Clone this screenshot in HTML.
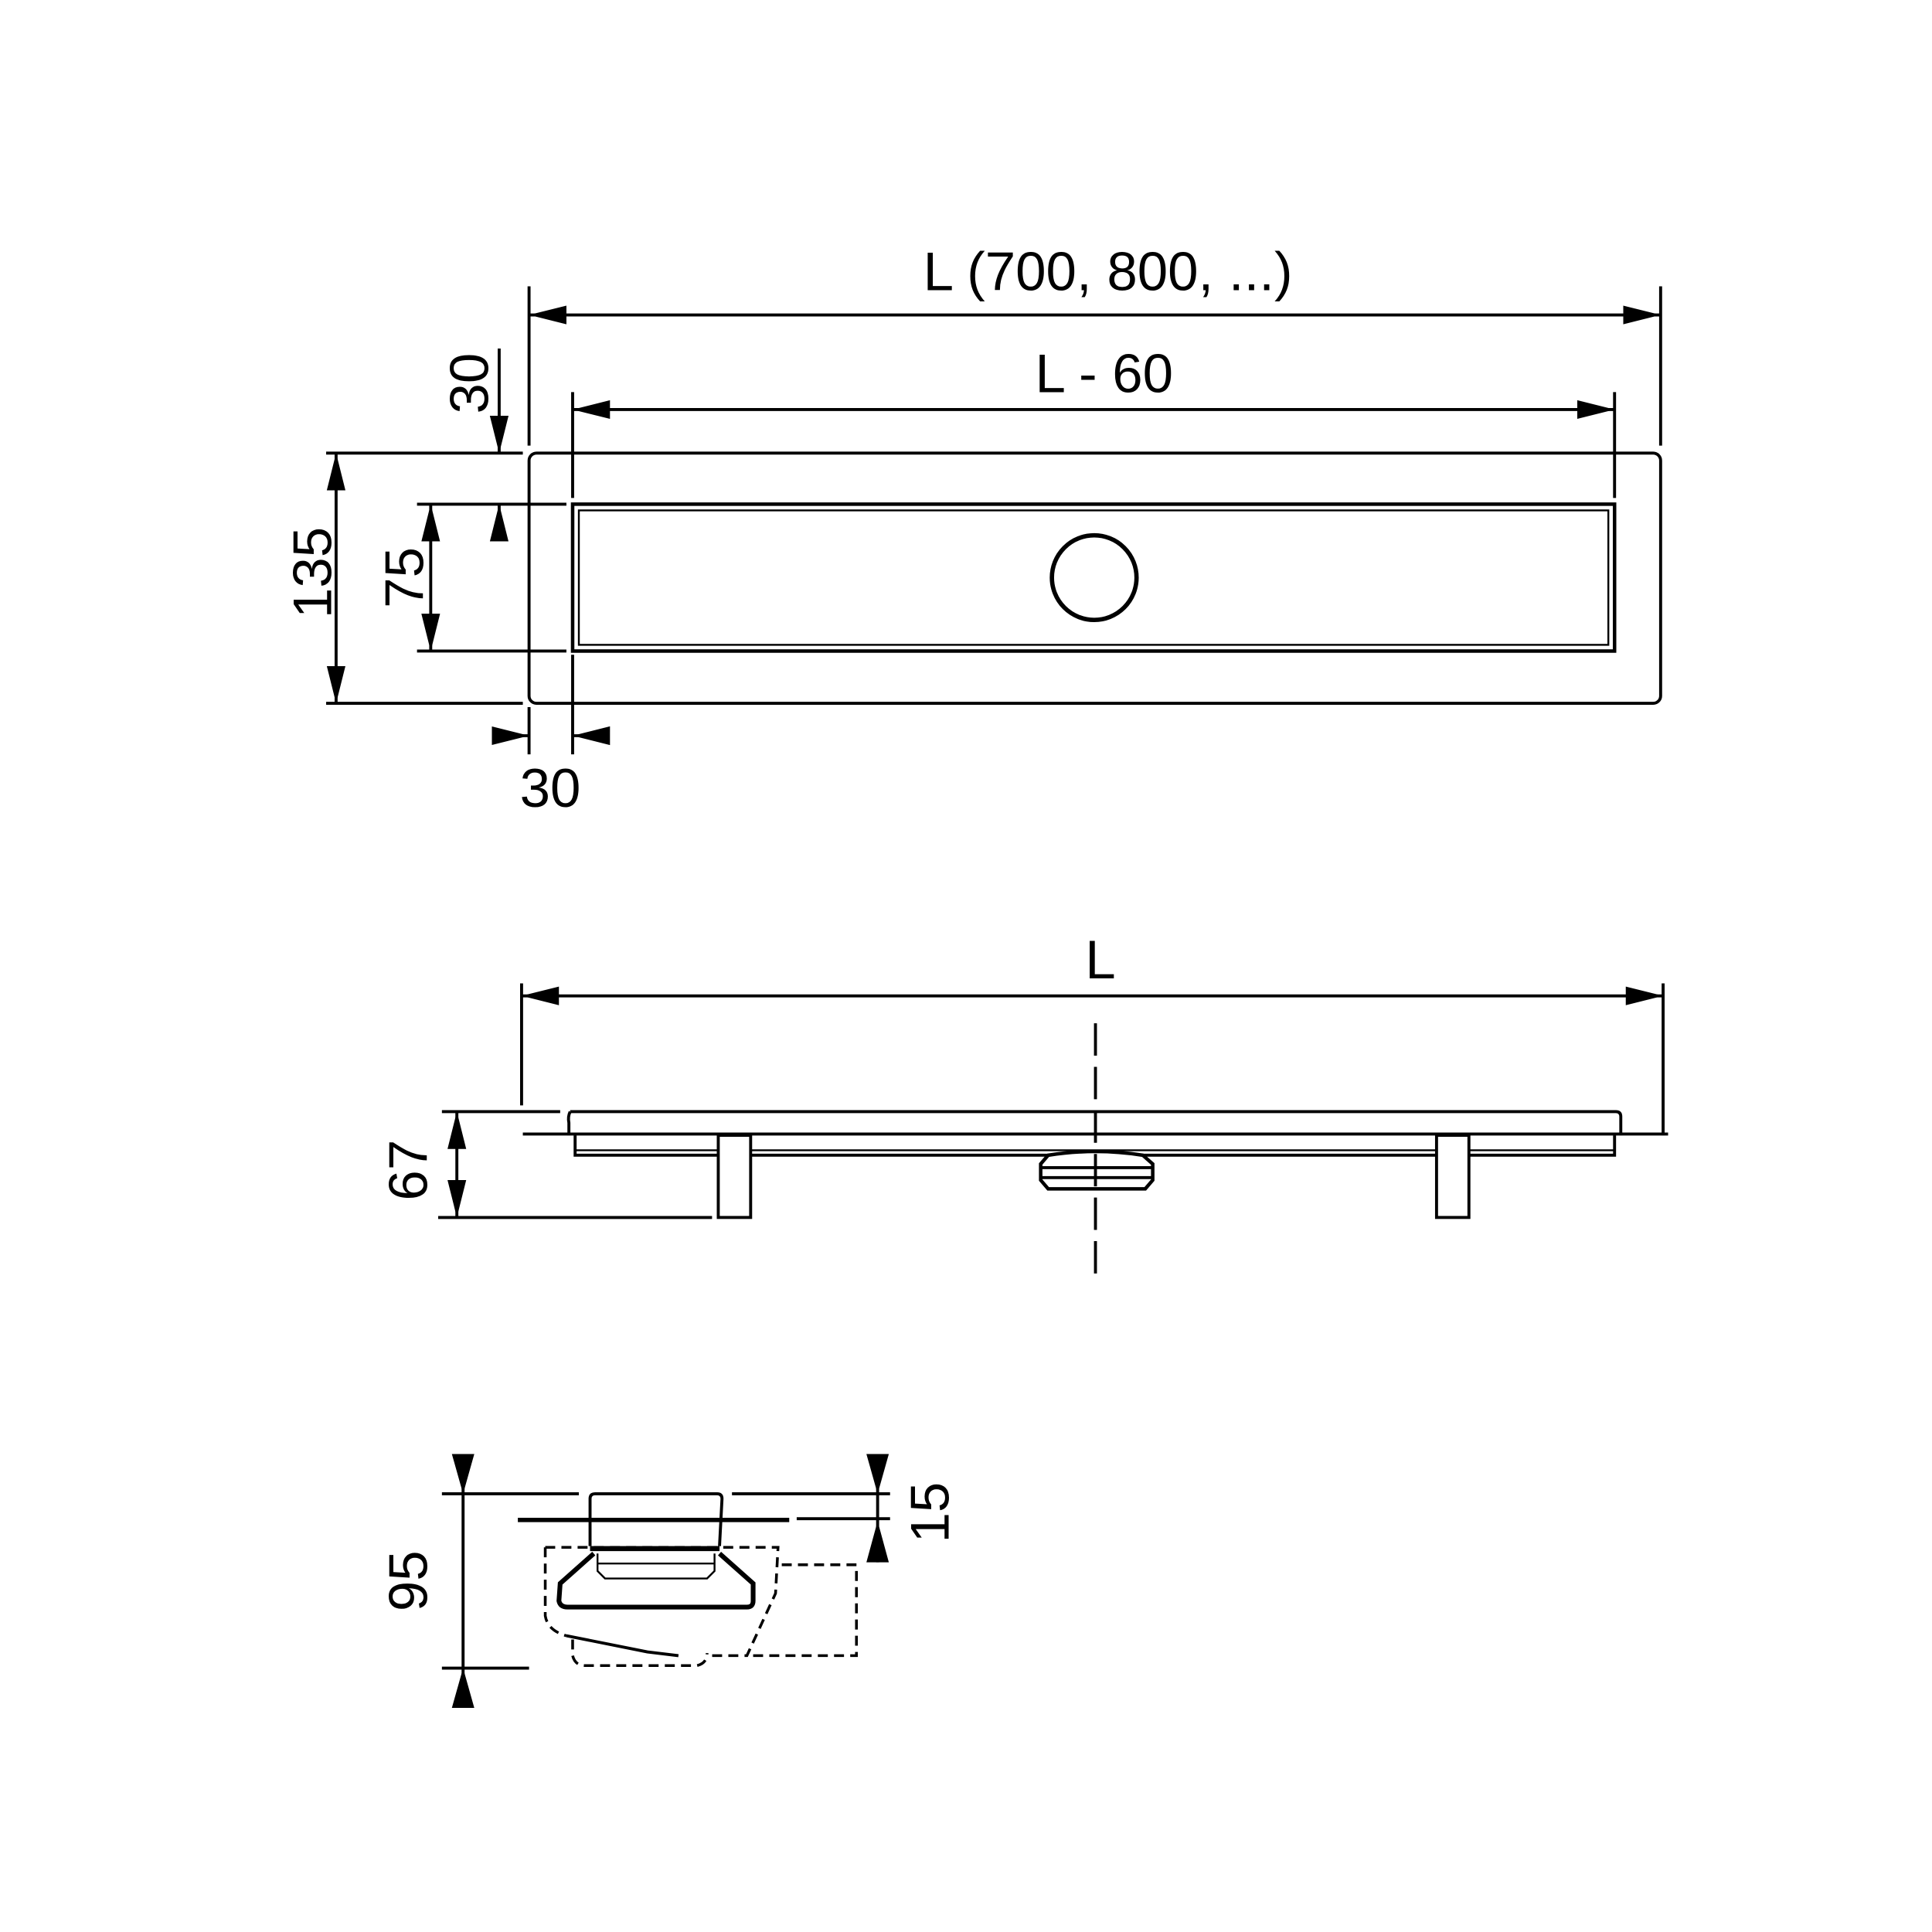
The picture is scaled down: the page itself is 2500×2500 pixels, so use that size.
<!DOCTYPE html>
<html><head><meta charset="utf-8"><style>html,body{margin:0;padding:0;background:#fff}svg{display:block}</style></head>
<body>
<svg width="2500" height="2500" viewBox="0 0 1552 1552" xmlns="http://www.w3.org/2000/svg" font-family="Liberation Sans, sans-serif" fill="none" stroke="#000" stroke-width="2.4">
<defs>
<marker id="b" viewBox="0 0 10 10" refX="10" refY="5" markerWidth="30" markerHeight="30" markerUnits="userSpaceOnUse" orient="auto-start-reverse"><path d="M0,2.5 L10,5 L0,7.5Z" fill="#000" stroke="none"/></marker>
</defs>
<!-- TOP VIEW -->
<rect x="425" y="364" width="909" height="201" rx="6"/>
<rect x="460" y="405" width="837" height="118" stroke-width="2.8"/>
<rect x="465" y="410" width="827" height="108" stroke-width="1.5"/>
<circle cx="879" cy="464" r="34" stroke-width="3.5"/>
<line x1="425" y1="230" x2="425" y2="358"/>
<line x1="1334" y1="230" x2="1334" y2="358"/>
<line x1="425" y1="253" x2="1334" y2="253" marker-start="url(#b)" marker-end="url(#b)"/>
<text x="890" y="233" font-size="44" fill="#000" stroke="none" text-anchor="middle">L (700, 800, ...)</text>
<line x1="460" y1="315" x2="460" y2="400"/>
<line x1="1297" y1="315" x2="1297" y2="400"/>
<line x1="460" y1="329" x2="1297" y2="329" marker-start="url(#b)" marker-end="url(#b)"/>
<text x="887" y="315" font-size="44" fill="#000" stroke="none" text-anchor="middle">L - 60</text>
<line x1="262" y1="364" x2="420" y2="364"/>
<line x1="262" y1="565" x2="420" y2="565"/>
<line x1="270" y1="364" x2="270" y2="565" marker-start="url(#b)" marker-end="url(#b)"/>
<text transform="translate(266,460) rotate(-90)" font-size="44" fill="#000" stroke="none" text-anchor="middle">135</text>
<line x1="335" y1="405" x2="455" y2="405"/>
<line x1="335" y1="523" x2="455" y2="523"/>
<line x1="346" y1="405" x2="346" y2="523" marker-start="url(#b)" marker-end="url(#b)"/>
<text transform="translate(340,464) rotate(-90)" font-size="44" fill="#000" stroke="none" text-anchor="middle">75</text>
<line x1="401" y1="280" x2="401" y2="364" marker-end="url(#b)"/>
<line x1="401" y1="433" x2="401" y2="405" marker-end="url(#b)"/>
<text transform="translate(392,308) rotate(-90)" font-size="44" fill="#000" stroke="none" text-anchor="middle">30</text>
<line x1="425" y1="568" x2="425" y2="606"/>
<line x1="460" y1="526" x2="460" y2="606"/>
<line x1="398" y1="591" x2="425" y2="591" marker-end="url(#b)"/>
<line x1="488" y1="591" x2="460" y2="591" marker-end="url(#b)"/>
<text x="442" y="648" font-size="44" fill="#000" stroke="none" text-anchor="middle">30</text>

<!-- SIDE VIEW -->
<line x1="419" y1="790" x2="419" y2="888"/>
<line x1="1336" y1="790" x2="1336" y2="912"/>
<line x1="419" y1="800" x2="1336" y2="800" marker-start="url(#b)" marker-end="url(#b)"/>
<text x="884" y="786" font-size="44" fill="#000" stroke="none" text-anchor="middle">L</text>
<path d="M458,893 L1298,893 Q1302,893 1302,897 L1302,912"/>
<path d="M458,893 Q456,897 457,902 L457,912"/>
<line x1="420" y1="911" x2="1340" y2="911"/>
<path d="M462,912 L462,928 L1297,928 L1297,912"/>
<line x1="462" y1="924" x2="1297" y2="924" stroke-width="1.5"/>
<rect x="577" y="912" width="26" height="66" fill="#fff"/>
<rect x="1154" y="912" width="26" height="66" fill="#fff"/>
<path d="M842,928 Q880,922 918,928 L926,935 L926,948 L920,955 L842,955 L836,948 L836,935Z" fill="#fff" stroke-width="2.8"/>
<line x1="836" y1="938" x2="926" y2="938"/>
<line x1="836" y1="946" x2="926" y2="946"/>
<line x1="880" y1="822" x2="880" y2="1032" stroke-dasharray="26,9"/>
<line x1="355" y1="893" x2="450" y2="893"/>
<line x1="352" y1="978" x2="572" y2="978"/>
<line x1="367" y1="893" x2="367" y2="978" marker-start="url(#b)" marker-end="url(#b)"/>
<text transform="translate(343,940) rotate(-90)" font-size="44" fill="#000" stroke="none" text-anchor="middle">67</text>

<!-- SECTION VIEW -->
<line x1="355" y1="1200" x2="465" y2="1200"/>
<line x1="588" y1="1200" x2="715" y2="1200"/>
<line x1="355" y1="1340" x2="425" y2="1340"/>
<line x1="372" y1="1168" x2="372" y2="1372"/>
<path d="M363,1168 L381,1168 L372,1200Z" fill="#000" stroke="none"/>
<path d="M363,1372 L381,1372 L372,1340Z" fill="#000" stroke="none"/>
<text transform="translate(343,1270) rotate(-90)" font-size="44" fill="#000" stroke="none" text-anchor="middle">95</text>
<line x1="640" y1="1220" x2="715" y2="1220"/>
<line x1="705" y1="1168" x2="705" y2="1255"/>
<path d="M696,1168 L714,1168 L705,1200Z" fill="#000" stroke="none"/>
<path d="M696,1255 L714,1255 L705,1222Z" fill="#000" stroke="none"/>
<text transform="translate(762,1215) rotate(-90)" font-size="44" fill="#000" stroke="none" text-anchor="middle">15</text>
<path d="M474,1242 L474,1204 Q474,1200 478,1200 L576,1200 Q580,1200 580,1204 L578,1242"/>
<line x1="416" y1="1221" x2="634" y2="1221" stroke-width="3.5"/>
<g stroke-dasharray="8,5" stroke-width="2.2">
<path d="M438,1243 L625,1243 L623,1280 L600,1330 L570,1330"/>
<path d="M438,1243 L438,1298 Q440,1310 455,1314"/>
<path d="M628,1257 L688,1257 L688,1330 L600,1330"/>
<path d="M460,1317 L460,1330 Q462,1338 470,1338 L560,1338 Q568,1336 568,1328"/>
</g>
<path d="M455,1314 L520,1327 L545,1330"/>
<line x1="474" y1="1244" x2="578" y2="1244" stroke-width="4"/>
<path d="M477,1248 L450,1272 L449,1286 Q450,1291 456,1291 L600,1291 Q605,1291 605,1286 L605,1272 L578,1248" stroke-width="3.8"/>
<path d="M480,1248 L480,1262 L486,1268 L568,1268 L574,1262 L574,1248" stroke-width="1.5"/>
<line x1="480" y1="1256" x2="574" y2="1256" stroke-width="1.5"/>
</svg>
</body></html>
